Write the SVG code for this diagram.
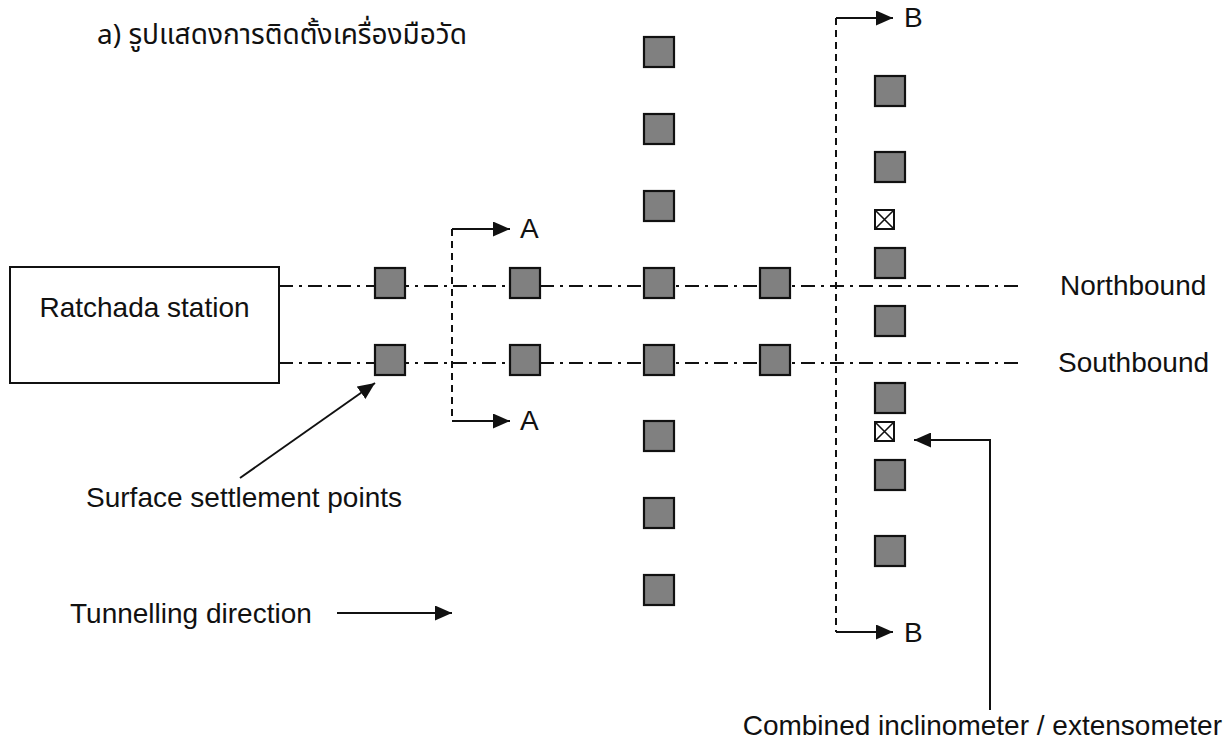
<svg xmlns="http://www.w3.org/2000/svg" width="1227" height="742" viewBox="0 0 1227 742">
  <style>
    .lbl { font-family: "Liberation Sans", "Noto Sans", Arial, sans-serif; font-size: 28px; fill: #111; }
    .thai { font-family: "Noto Sans Thai", "Liberation Sans", "DejaVu Sans", "Noto Sans", sans-serif; font-size: 28px; fill: #111; }
    .pt { fill: #808080; stroke: #111; stroke-width: 2.2; }
    .ix { fill: #fff; stroke: #111; stroke-width: 2; }
    .ix-x { stroke: #111; stroke-width: 1.6; fill: none; }
    .axis { stroke: #111; stroke-width: 2; fill: none; stroke-dasharray: 14 6 3 6; }
    .cut { stroke: #111; stroke-width: 2; fill: none; stroke-dasharray: 7 5; }
    .arr { stroke: #111; stroke-width: 2; fill: none; marker-end: url(#head); }
    .box { fill: #fff; stroke: #111; stroke-width: 2; }
  </style>
  <defs>
    <marker id="head" markerUnits="userSpaceOnUse" markerWidth="17" markerHeight="15" refX="17" refY="7.5" orient="auto">
      <path d="M0,0 L17,7.5 L0,15 Z" fill="#111"/>
    </marker>
    <rect id="sq" class="pt" x="-15" y="-15" width="30" height="30"/>
    <g id="xb">
      <rect class="ix" x="-9.5" y="-9.5" width="19" height="19"/>
      <path class="ix-x" d="M-9.5,-9.5 L9.5,9.5 M9.5,-9.5 L-9.5,9.5"/>
    </g>
  </defs>

  <rect width="1227" height="742" fill="#fff"/>

  <!-- heading -->
  <text class="thai" x="97" y="44">a) รูปแสดงการติดตั้งเครื่องมือวัด</text>

  <!-- tunnel alignments, section cuts and leader arrows -->
  <g id="connectors">
    <path id="northbound-axis" class="axis" d="M279,286 H1023"/>
    <path id="southbound-axis" class="axis" d="M279,363 H1023"/>

    <path id="cut-a" class="cut" d="M452,229 V421"/>
    <path class="arr" d="M452,229 H510"/>
    <path class="arr" d="M452,421 H510"/>

    <path id="cut-b" class="cut" d="M836,18 V632"/>
    <path class="arr" d="M836,18 H893"/>
    <path class="arr" d="M836,632 H893"/>

    <path id="settlement-leader" class="arr" d="M240,478 L375,383"/>
    <path id="tunnelling-arrow" class="arr" d="M337,613 H452"/>
    <path id="inclinometer-leader" class="arr" d="M990,710 V440 H914"/>
  </g>

  <!-- station -->
  <g id="ratchada-station">
    <rect class="box" x="10" y="267" width="269" height="116"/>
    <text class="lbl" x="144.5" y="317" text-anchor="middle">Ratchada station</text>
  </g>

  <!-- surface settlement points on the tunnel axes -->
  <g id="axis-points">
    <use href="#sq" x="390" y="283"/>
    <use href="#sq" x="390" y="360"/>
    <use href="#sq" x="525" y="283"/>
    <use href="#sq" x="525" y="360"/>
    <use href="#sq" x="775" y="283"/>
    <use href="#sq" x="775" y="360"/>
  </g>

  <!-- transverse settlement array -->
  <g id="array-1">
    <use href="#sq" x="659" y="52"/>
    <use href="#sq" x="659" y="129"/>
    <use href="#sq" x="659" y="206"/>
    <use href="#sq" x="659" y="283"/>
    <use href="#sq" x="659" y="360"/>
    <use href="#sq" x="659" y="436"/>
    <use href="#sq" x="659" y="513"/>
    <use href="#sq" x="659" y="590"/>
  </g>

  <!-- transverse array with inclinometers -->
  <g id="array-2">
    <use href="#sq" x="890" y="91"/>
    <use href="#sq" x="890" y="167"/>
    <use href="#sq" x="890" y="263"/>
    <use href="#sq" x="890" y="321"/>
    <use href="#sq" x="890" y="398"/>
    <use href="#sq" x="890" y="475"/>
    <use href="#sq" x="890" y="551"/>
    <use href="#xb" x="884.5" y="219.5"/>
    <use href="#xb" x="884.5" y="431.5"/>
  </g>

  <!-- labels -->
  <g id="labels">
    <text class="lbl" x="520" y="238">A</text>
    <text class="lbl" x="520" y="430">A</text>
    <text class="lbl" x="904" y="27">B</text>
    <text class="lbl" x="904" y="642">B</text>
    <text class="lbl" x="1060" y="295">Northbound</text>
    <text class="lbl" x="1058" y="372">Southbound</text>
    <text class="lbl" x="402" y="507" text-anchor="end">Surface settlement points</text>
    <text class="lbl" x="70" y="623">Tunnelling direction</text>
    <text class="lbl" x="1222" y="735" text-anchor="end">Combined inclinometer / extensometer</text>
  </g>
</svg>
